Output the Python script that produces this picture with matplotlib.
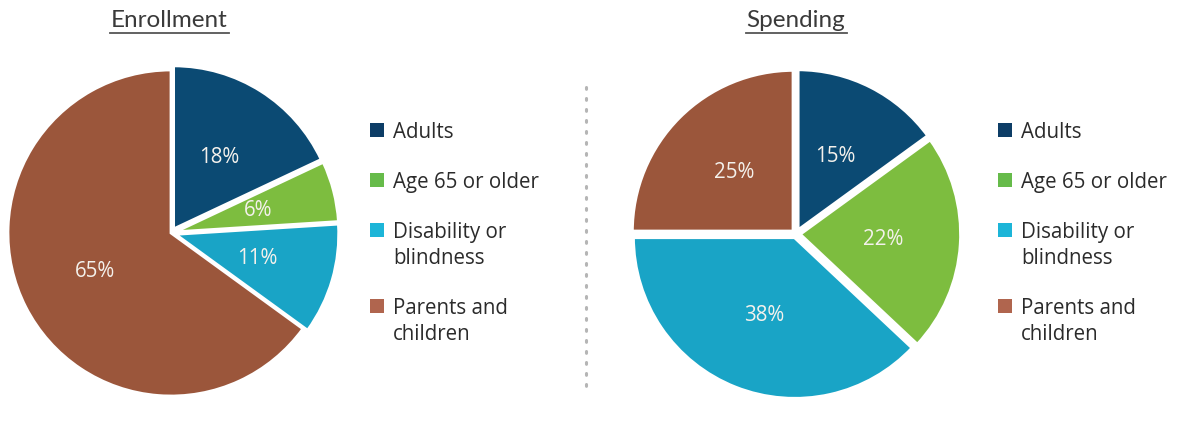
import matplotlib
matplotlib.use("Agg")
import matplotlib.pyplot as plt
from matplotlib.patches import Rectangle
from matplotlib.lines import Line2D

# ---- data ----
categories = ["Adults", "Age 65 or older", "Disability or\nblindness", "Parents and\nchildren"]
enrollment = [18, 6, 11, 65]
spending = [15, 22, 38, 25]
titles = ["Enrollment", "Spending"]
colors = ["#0b4a73", "#7dbd3f", "#19a4c6", "#9b563b"]
legend_colors = ["#0d3d66", "#66bb4a", "#1cb5d8", "#b0654e"]

W, H = 1191, 447
plt.rcParams['font.family'] = ['Open Sans', 'DejaVu Sans']
fig = plt.figure(figsize=(W / 100, H / 100), dpi=100)
fig.patch.set_facecolor("white")

def fx(px):
    return px / W

def fy(py):
    return 1 - py / H

def pie_axes(cx, cy, r, pad=1.15):
    h = r * pad
    ax = fig.add_axes([fx(cx - h), fy(cy + h), 2 * h / W, 2 * h / H])
    ax.set_xlim(-pad, pad)
    ax.set_ylim(-pad, pad)
    ax.set_aspect("equal")
    ax.axis("off")
    return ax

def draw_pie(ax, vals, explode, lw):
    ax.pie(vals, colors=colors, startangle=90, counterclock=False,
           explode=explode, autopct=lambda p: f"{p:.0f}%", pctdistance=0.52,
           wedgeprops=dict(edgecolor="white", linewidth=lw),
           textprops=dict(color="#f4f1ec", fontsize=14.8))
    ax.set_xlim(-1.15, 1.15)
    ax.set_ylim(-1.15, 1.15)

ax1 = pie_axes(171, 233, 163)
draw_pie(ax1, enrollment, [0.03, 0.03, 0.03, 0.0], 2.0)
ax2 = pie_axes(796, 234, 162)
draw_pie(ax2, spending, [0.02, 0.02, 0.02, 0.02], 3.0)

# titles with underline
title_pos = [(169, 27), (796, 27)]
title_texts = []
for t, (x, y) in zip(titles, title_pos):
    title_texts.append(fig.text(fx(x), fy(y), t, ha="center", va="baseline",
                                fontsize=17.5, color="#3a3a3a", family=['Lato', 'DejaVu Sans']))
fig.canvas.draw()
renderer = fig.canvas.get_renderer()
for tt in title_texts:
    bb = tt.get_window_extent(renderer)
    fig.add_artist(Line2D([fx(bb.x0 - 1), fx(bb.x1 + 2)], [fy(33), fy(33)],
                          transform=fig.transFigure, color="#555555", linewidth=1.3))

# legends
def draw_legend(sq_x, txt_x):
    base = 138
    for cat, col in zip(categories, legend_colors):
        lines = cat.split("\n")
        fig.add_artist(Rectangle((fx(sq_x), fy(base - 1)), 14 / W, 14 / H,
                                 transform=fig.transFigure, facecolor=col, edgecolor="none"))
        for i, ln in enumerate(lines):
            fig.text(fx(txt_x), fy(base + 26 * i), ln, ha="left", va="baseline",
                     fontsize=14.8, color="#2b2b2b")
        base += 50 + 26 * (len(lines) - 1)

draw_legend(370, 393)
draw_legend(998, 1021)

# dotted separator
fig.add_artist(Line2D([fx(586), fx(586)], [fy(87), fy(389)], transform=fig.transFigure,
                      color="#b5b5b5", linewidth=2.2, linestyle=(0, (0.6, 3.0)),
                      solid_capstyle="round", dash_capstyle="round"))

fig.savefig("out.png", dpi=100, facecolor="white")
